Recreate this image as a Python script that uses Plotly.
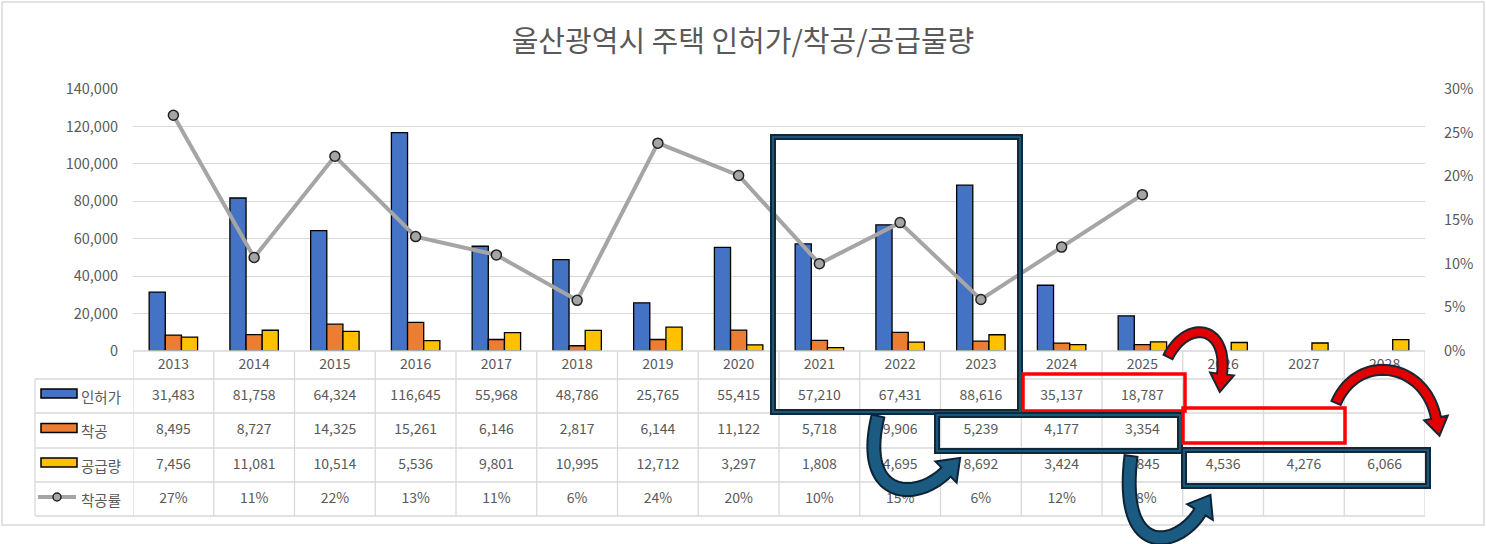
import numpy as np
import plotly.graph_objects as go

years = [str(y) for y in range(2013, 2029)]
permits = [31483, 81758, 64324, 116645, 55968, 48786, 25765, 55415,
           57210, 67431, 88616, 35137, 18787, None, None, None]
starts = [8495, 8727, 14325, 15261, 6146, 2817, 6144, 11122,
          5718, 9906, 5239, 4177, 3354, None, None, None]
supply = [7456, 11081, 10514, 5536, 9801, 10995, 12712, 3297,
          1808, 4695, 8692, 3424, 4845, 4536, 4276, 6066]
start_rate = [0.270, 0.107, 0.223, 0.131, 0.110, 0.058, 0.238, 0.201,
              0.100, 0.147, 0.059, 0.119, 0.179]

series_names = ["인허가", "착공", "공급량", "착공률"]
colors = ["#4472C4", "#ED7D31", "#FFC000", "#A5A5A5"]

TXT = "#595959"
GRID = "#D9D9D9"
FONT = "Noto Sans CJK KR"

# pixel frame of the plotting paper (plot area + data table)
L, R, T, B = 133, 1425, 89, 516
W, H = R - L, B - T
AXIS_Y = 351


def px(x):
    return (x - L) / W


def py(y):
    return (B - y) / H


fig = go.Figure()

for name, vals, col in zip(series_names[:3], [permits, starts, supply], colors[:3]):
    fig.add_trace(go.Bar(
        x=years, y=vals, name=name,
        marker=dict(color=col, line=dict(color="black", width=1.3)),
    ))

fig.add_trace(go.Scatter(
    x=years[:len(start_rate)], y=start_rate, name=series_names[3],
    yaxis="y2", mode="lines+markers",
    line=dict(color=colors[3], width=4),
    marker=dict(size=10, color="#A5A5A5", line=dict(color="#222222", width=1.5)),
))

# data table rows as text in a subplot under the bars
row_center = {"head": 14, 0: 45, 1: 79.5, 2: 114, 3: 148}
tfont = dict(size=14, color=TXT, family=FONT)
fig.add_trace(go.Scatter(
    x=years, y=[row_center["head"]] * len(years), text=years,
    mode="text", yaxis="y3", textfont=tfont, hoverinfo="skip",
))
for i, vals in enumerate([permits, starts, supply]):
    xs = [yr for yr, v in zip(years, vals) if v is not None]
    ts = [f"{v:,}" for v in vals if v is not None]
    fig.add_trace(go.Scatter(
        x=xs, y=[row_center[i]] * len(xs), text=ts, mode="text", yaxis="y3",
        textfont=tfont, hoverinfo="skip",
    ))
fig.add_trace(go.Scatter(
    x=years[:len(start_rate)], y=[row_center[3]] * len(start_rate),
    text=[f"{r:.0%}" for r in start_rate], mode="text", yaxis="y3",
    textfont=tfont, hoverinfo="skip",
))

shapes = []
line_grid = dict(color=GRID, width=1.3)

# outer chart border
shapes.append(dict(type="rect", xref="paper", yref="paper", layer="below",
                   x0=px(2), x1=px(1484), y0=py(2), y1=py(525),
                   line=dict(color=GRID, width=1.5)))

# table grid
for i in range(len(years) + 1):
    shapes.append(dict(type="line", xref="x", yref="paper",
                       x0=i - 0.5, x1=i - 0.5, y0=py(AXIS_Y), y1=py(B), line=line_grid))
shapes.append(dict(type="line", xref="paper", yref="paper",
                   x0=px(35), x1=px(35), y0=py(379), y1=py(B), line=line_grid))
for yy in [379, 413, 448, 482, 516]:
    shapes.append(dict(type="line", xref="paper", yref="paper",
                       x0=px(35), x1=px(R), y0=py(yy), y1=py(yy), line=line_grid))
shapes.append(dict(type="line", xref="paper", yref="paper",
                   x0=0, x1=1, y0=py(AXIS_Y), y1=py(AXIS_Y), line=line_grid))

# legend keys inside the table
annotations = []
key_rows = [396, 430.5, 465, 499]
for k, (name, col, yc) in enumerate(zip(series_names, colors, key_rows)):
    if k < 3:
        shapes.append(dict(type="rect", xref="paper", yref="paper",
                           x0=px(41), x1=px(77), y0=py(yc + 2), y1=py(yc - 7),
                           fillcolor=col, line=dict(color="black", width=1.5)))
    else:
        shapes.append(dict(type="line", xref="paper", yref="paper",
                           x0=px(38), x1=px(76), y0=py(yc - 2), y1=py(yc - 2),
                           line=dict(color=col, width=4)))
        shapes.append(dict(type="circle", xref="paper", yref="paper",
                           x0=px(53), x1=px(61), y0=py(yc + 2), y1=py(yc - 6),
                           fillcolor=col, line=dict(color="#222222", width=1.5)))
    annotations.append(dict(text=name, x=px(79), y=py(yc), xref="paper", yref="paper",
                            xanchor="left", yanchor="middle", showarrow=False,
                            font=dict(size=14.5, color=TXT, family=FONT)))


def box(x0, y0, x1, y1, kind):
    if kind == "navy":
        return [
            dict(type="rect", xref="paper", yref="paper", x0=px(x0), x1=px(x1),
                 y0=py(y1), y1=py(y0), line=dict(color="#10283A", width=6)),
            dict(type="rect", xref="paper", yref="paper", x0=px(x0), x1=px(x1),
                 y0=py(y1), y1=py(y0), line=dict(color="#1F6690", width=1.5)),
        ]
    return [dict(type="rect", xref="paper", yref="paper", x0=px(x0), x1=px(x1),
                 y0=py(y1), y1=py(y0), line=dict(color="#FF0000", width=3.5))]


shapes += box(773, 137, 1020, 412, "navy")
shapes += box(1023, 374, 1185, 411, "red")
shapes += box(937, 415, 1180, 451, "navy")
shapes += box(1183, 408, 1345, 443, "red")
shapes += box(1184, 450, 1428, 486, "navy")


def curved_arrow(p0, p1, p2, p3, w, hl, hw, fill, edge, n=40):
    P = np.array([p0, p1, p2, p3], dtype=float)
    t = np.linspace(0, 1, n)[:, None]
    pts = ((1 - t) ** 3) * P[0] + 3 * ((1 - t) ** 2) * t * P[1] \
        + 3 * (1 - t) * t ** 2 * P[2] + t ** 3 * P[3]
    d = 3 * ((1 - t) ** 2) * (P[1] - P[0]) + 6 * (1 - t) * t * (P[2] - P[1]) \
        + 3 * t ** 2 * (P[3] - P[2])
    d = d / np.linalg.norm(d, axis=1)[:, None]
    nrm = np.stack([-d[:, 1], d[:, 0]], axis=1)
    left = pts + nrm * w / 2
    right = pts - nrm * w / 2
    u, nn = d[-1], nrm[-1]
    tip = P[3] + u * hl
    poly = list(left) + [P[3] + nn * hw / 2, tip, P[3] - nn * hw / 2] + list(right[::-1])
    path = "M " + " L ".join(f"{px(x):.5f},{py(y):.5f}" for x, y in poly) + " Z"
    return dict(type="path", xref="paper", yref="paper", path=path,
                fillcolor=fill, line=dict(color=edge, width=2))


navy_fill, navy_edge = "#1B5B82", "#0D2233"
red_fill, red_edge = "#E00000", "#1A2733"
shapes.append(curved_arrow((878, 416), (858, 498), (915, 503), (946, 472),
                           13, 20, 30, navy_fill, navy_edge))
shapes.append(curved_arrow((1131, 456), (1118, 560), (1178, 548), (1200, 512),
                           13, 20, 30, navy_fill, navy_edge))
shapes.append(curved_arrow((1168, 357), (1188, 318), (1228, 326), (1222, 374),
                           10, 18, 24, red_fill, red_edge))
shapes.append(curved_arrow((1336, 403), (1358, 352), (1425, 362), (1436, 418),
                           10, 18, 24, red_fill, red_edge))

fig.update_layout(
    width=1486, height=544,
    margin=dict(l=L, r=1486 - R, t=T, b=544 - B, pad=0),
    paper_bgcolor="white", plot_bgcolor="white",
    font=dict(family=FONT, color=TXT, size=13),
    title=dict(text="울산광역시 주택 인허가/착공/공급물량", x=0.5, xanchor="center",
               y=1 - 42 / 544, yanchor="middle",
               font=dict(size=29, color=TXT, family=FONT)),
    showlegend=False,
    barmode="group", bargap=0.4, bargroupgap=0,
    xaxis=dict(type="category", range=[-0.5, len(years) - 0.5], autorange=False,
               showticklabels=False, showgrid=False,
               zeroline=False, showline=False, ticks="", anchor="y"),
    yaxis=dict(domain=[py(AXIS_Y), 1], range=[0, 140000], dtick=20000,
               tickformat=",", gridcolor=GRID, gridwidth=1.3, zeroline=False,
               showline=False, ticklabelstandoff=14,
               tickfont=dict(size=14.5, color=TXT)),
    yaxis2=dict(overlaying="y", side="right", range=[0, 0.30], dtick=0.05,
                tickformat=".0%", showgrid=False, zeroline=False, showline=False,
                ticklabelstandoff=18, tickfont=dict(size=14.5, color=TXT)),
    yaxis3=dict(domain=[0, py(AXIS_Y)], range=[B - AXIS_Y, 0], anchor="x",
                autorange=False, showgrid=False, zeroline=False, showline=False,
                showticklabels=False, fixedrange=True),
    shapes=shapes,
    annotations=annotations,
)

fig.write_html("out.html", config={"displayModeBar": False},
               post_script="document.body.style.margin='0';")
